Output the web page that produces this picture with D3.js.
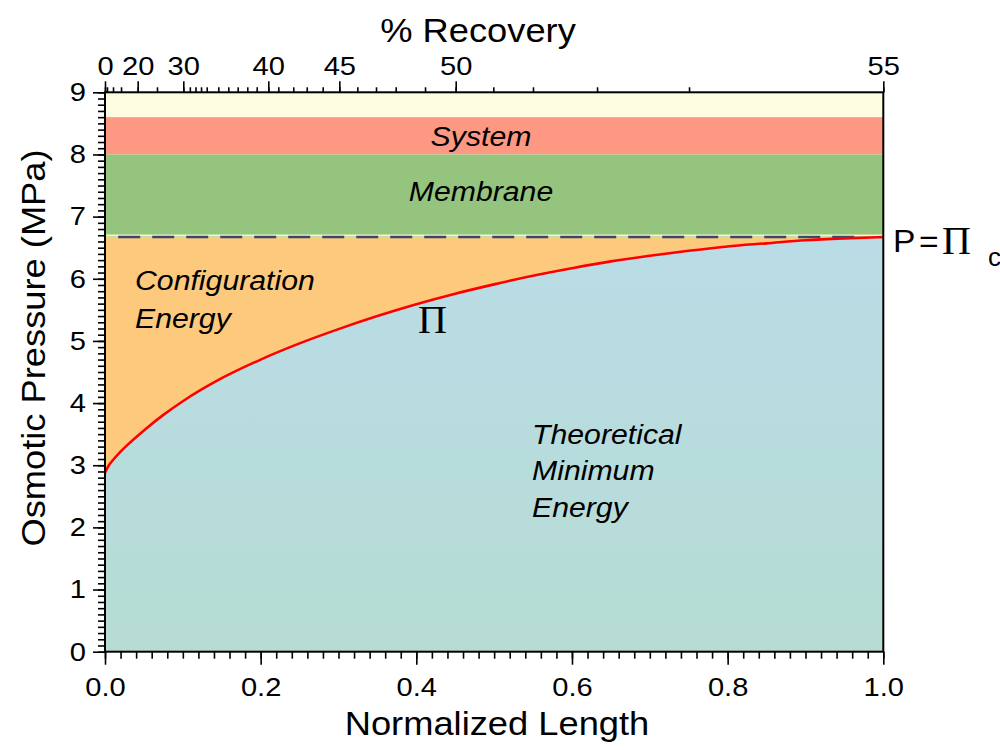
<!DOCTYPE html>
<html>
<head>
<meta charset="utf-8">
<script src="https://cdn.jsdelivr.net/npm/d3@7"></script>
<style>
  body { margin: 0; background: #fff; }
  svg { display: block; }
</style>
</head>
<body>
<script>
// Osmotic pressure (MPa) along the normalized module length
const lengthPts   = [0, 0.005, 0.01, 0.02, 0.03, 0.05, 0.075, 0.1, 0.15, 0.2, 0.25, 0.3, 0.35, 0.4, 0.45, 0.5, 0.55, 0.6, 0.65, 0.7, 0.75, 0.8, 0.85, 0.9, 0.95, 1.0];
const pressurePts = [2.88, 3.00, 3.08, 3.22, 3.34, 3.56, 3.81, 4.03, 4.40, 4.70, 4.96, 5.19, 5.40, 5.59, 5.76, 5.91, 6.05, 6.17, 6.28, 6.37, 6.45, 6.52, 6.57, 6.62, 6.65, 6.67];

// Applied pressure equals the outlet osmotic pressure
const outletPressure = 6.67;

// Energy bands stacked above the applied pressure
const bandNames = ["", "System", "Membrane"];
const bandLow   = [8.6, 8.0, outletPressure];
const bandHigh  = [9.0, 8.6, 8.0];
const bandFills = ["#fefde2", "#fd9882", "#94c47d"];

// Axis ticks
const xMajorTicks = [0, 0.2, 0.4, 0.6, 0.8, 1.0];
const yMajorTicks = [0, 1, 2, 3, 4, 5, 6, 7, 8, 9];

// % Recovery reached at each point along the normalized length
const recoveryValues   = [0, 5, 10, 15, 20, 25, 30, 31, 32, 33, 34, 35, 36, 37, 38, 39, 40, 41, 42, 43, 44, 45, 46, 47, 48, 49, 50, 51, 52, 53, 54, 55];
const recoveryAtLength = [0, 0.0026, 0.0103, 0.0206, 0.042, 0.0668, 0.1006, 0.109, 0.1163, 0.1234, 0.1307, 0.1456, 0.1584, 0.1705, 0.1828, 0.1949, 0.2098, 0.2227, 0.2419, 0.2592, 0.2797, 0.3011, 0.3242, 0.3482, 0.3735, 0.4112, 0.4506, 0.4989, 0.5499, 0.6322, 0.7504, 1.0];
const recoveryLabels   = [0, 20, 30, 40, 45, 50, 55];

const W = 1000, H = 750;
const plotLeft = 105, plotRight = 883.3, plotTop = 92.3, plotBottom = 651.7;
const SANS = "'Liberation Sans', Arial, Helvetica, sans-serif";
const SERIF = "'Liberation Serif', 'Times New Roman', serif";
const WIDEN = 1.12;
const TICK_FONT = 26;

const svg = d3.select("body").append("svg").attr("width", W).attr("height", H);

const x = d3.scaleLinear().domain([0, 1]).range([plotLeft, plotRight]);
const y = d3.scaleLinear().domain([0, 9]).range([plotBottom, plotTop]);
const recToLen = d3.scaleLinear().domain(recoveryValues).range(recoveryAtLength);

const curve = lengthPts.map((l, i) => [l, pressurePts[i]]);

// Gradient for the theoretical-minimum region
const defs = svg.append("defs");
const grad = defs.append("linearGradient").attr("id", "minGrad")
  .attr("x1", 0).attr("y1", 0).attr("x2", 0).attr("y2", 1);
grad.append("stop").attr("offset", "0%").attr("stop-color", "#badce7");
grad.append("stop").attr("offset", "100%").attr("stop-color", "#b6dcd4");

// Bands above the applied pressure
svg.append("g").selectAll("rect").data(bandNames).join("rect")
  .attr("x", x(0)).attr("width", x(1) - x(0))
  .attr("y", (d, i) => y(bandHigh[i]))
  .attr("height", (d, i) => y(bandLow[i]) - y(bandHigh[i]))
  .attr("fill", (d, i) => bandFills[i]);

// Configuration energy: between the osmotic curve and the applied pressure
svg.append("path")
  .datum(curve)
  .attr("fill", "#fdc97d")
  .attr("d", d3.area().x(d => x(d[0])).y0(y(outletPressure)).y1(d => y(d[1])).curve(d3.curveMonotoneX));

// Theoretical minimum energy: under the osmotic curve
svg.append("path")
  .datum(curve)
  .attr("fill", "url(#minGrad)")
  .attr("d", d3.area().x(d => x(d[0])).y0(y(0)).y1(d => y(d[1])).curve(d3.curveMonotoneX));

// Thin light seam at the applied pressure
svg.append("line")
  .attr("x1", x(0)).attr("x2", x(1))
  .attr("y1", y(outletPressure) - 1.5).attr("y2", y(outletPressure) - 1.5)
  .attr("stroke", "#f4f6d2").attr("stroke-width", 2);

// Applied pressure (dashed)
svg.append("line")
  .attr("x1", x(0.017)).attr("x2", x(0.97))
  .attr("y1", y(outletPressure)).attr("y2", y(outletPressure))
  .attr("stroke", "#3c4770").attr("stroke-width", 2.5)
  .attr("stroke-dasharray", "22,12");

// Osmotic pressure curve
svg.append("path")
  .datum(curve)
  .attr("fill", "none")
  .attr("stroke", "#ff0000")
  .attr("stroke-width", 2.6)
  .attr("d", d3.line().x(d => x(d[0])).y(d => y(d[1])).curve(d3.curveMonotoneX));

// Frame
svg.append("rect")
  .attr("x", x(0)).attr("y", y(9))
  .attr("width", x(1) - x(0)).attr("height", y(0) - y(9))
  .attr("fill", "none").attr("stroke", "#000").attr("stroke-width", 2);

function styleAxis(g) {
  g.select(".domain").remove();
  g.selectAll("line").attr("stroke", "#000").attr("stroke-width", 1.6);
  g.selectAll("text")
    .attr("font-family", SANS).attr("font-size", TICK_FONT).attr("fill", "#000");
}

// Bottom axis: minor ticks every 0.02
const bottomMinor = d3.range(0, 1.0001, 0.02);
svg.append("g").attr("transform", `translate(0,${plotBottom})`)
  .call(d3.axisBottom(x).tickValues(bottomMinor).tickSize(7).tickFormat(""))
  .call(styleAxis);
svg.append("g").attr("transform", `translate(0,${plotBottom})`)
  .call(d3.axisBottom(x).tickValues(xMajorTicks).tickSize(13).tickPadding(13).tickFormat(d3.format(".1f")))
  .call(styleAxis)
  .call(g => g.selectAll("text").attr("transform", `scale(${WIDEN},1)`));

// Left axis: minor ticks every 0.1
const leftMinor = d3.range(0, 9.0001, 0.1);
svg.append("g").attr("transform", `translate(${plotLeft},0)`)
  .call(d3.axisLeft(y).tickValues(leftMinor).tickSize(7).tickFormat(""))
  .call(styleAxis);
svg.append("g").attr("transform", `translate(${plotLeft},0)`)
  .call(d3.axisLeft(y).tickValues(yMajorTicks).tickSize(12).tickPadding(8).tickFormat(d3.format("d")))
  .call(styleAxis)
  .call(g => g.selectAll("text").attr("transform", `scale(${WIDEN},1)`).attr("x", -19 / WIDEN));

// Top axis: % Recovery placed along the normalized length
svg.append("g").attr("transform", `translate(0,${plotTop})`)
  .call(d3.axisTop(x).tickValues(recoveryValues.map(r => recToLen(r))).tickSize(5).tickFormat(""))
  .call(styleAxis);
svg.append("g").attr("transform", `translate(0,${plotTop})`)
  .call(d3.axisTop(x).tickValues(recoveryLabels.map(r => recToLen(r))).tickSize(11).tickPadding(6)
    .tickFormat((d, i) => String(recoveryLabels[i])))
  .call(styleAxis)
  .call(g => g.selectAll("text").attr("transform", `scale(${WIDEN},1)`));

// Text helper with a slightly widened face
function label(txt, px, py, opts = {}) {
  return svg.append("text")
    .attr("transform", `translate(${px},${py}) rotate(${opts.rotate || 0}) scale(${opts.widen || WIDEN},1)`)
    .attr("font-family", opts.family || SANS)
    .attr("font-size", opts.size || 28)
    .attr("font-style", opts.italic ? "italic" : "normal")
    .attr("text-anchor", opts.anchor || "start")
    .attr("fill", "#000")
    .text(txt);
}

// Axis titles
label("% Recovery", 478, 42, { size: 33, anchor: "middle", widen: 1.1 });
label("Normalized Length", 497, 735, { size: 33, anchor: "middle", widen: 1.1 });
label("Osmotic Pressure (MPa)", 45, 348, { size: 33, anchor: "middle", widen: 1.1, rotate: -90 });

// Band and region labels
label(bandNames[1], 481, (y(bandLow[1]) + y(bandHigh[1])) / 2 + 10, { italic: true, anchor: "middle", size: 27 });
label(bandNames[2], 481, (y(bandLow[2]) + y(bandHigh[2])) / 2 + 5, { italic: true, anchor: "middle", size: 27 });
label("Configuration", 135, 290, { italic: true, size: 27 });
label("Energy", 135, 328, { italic: true, size: 27 });
label("Theoretical", 532, 444, { italic: true, size: 27 });
label("Minimum", 532, 480, { italic: true, size: 27 });
label("Energy", 532, 517, { italic: true, size: 27 });

// Curve and applied-pressure labels
label("\u03A0", 418, 333, { family: SERIF, size: 40, widen: 1 });
label("P", 893, 252, { size: 32, widen: 1.05 });
label("=", 919, 252, { size: 32, widen: 1.05 });
label("\u03A0", 942, 254, { family: SERIF, size: 40, widen: 1 });
label("c", 988, 266, { size: 26, widen: 1 });
</script>
</body>
</html>
